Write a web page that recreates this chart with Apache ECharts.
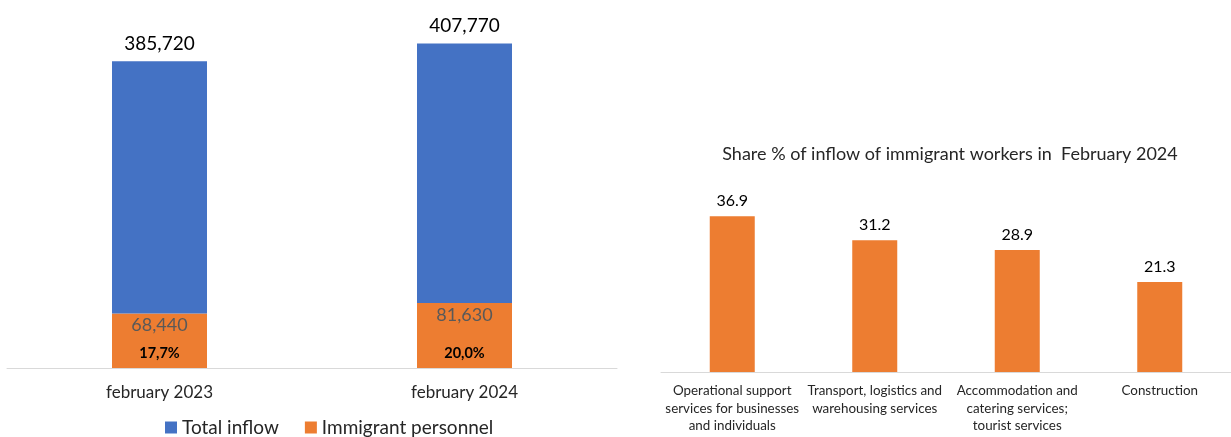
<!DOCTYPE html>
<html>
<head>
<meta charset="utf-8">
<script src="https://cdn.jsdelivr.net/npm/echarts@6/dist/echarts.min.js"></script>
<style>
  html, body { margin: 0; padding: 0; background: #fff; }
  #chart { width: 1231px; height: 437px; }
</style>
</head>
<body>
<div id="chart"></div>
<script>
// left: inflow by month
var months = ['february 2023', 'february 2024'];
var totalInflow = [385720, 407770];
var immigrantPersonnel = [68440, 81630];

// right: share % by sector, february 2024
var sectors = [
    'Operational support\nservices for businesses\nand individuals',
    'Transport, logistics and\nwarehousing services',
    'Accommodation and\ncatering services;\ntourist services',
    'Construction'
];
var sectorShare = [36.9, 31.2, 28.9, 21.3];

var BLUE = '#4472C4', ORANGE = '#ED7D31';
var FONT = 'Lato, "Open Sans", sans-serif';

function fmtThousands(v) {
    return v.toLocaleString('en-US');
}
// remaining part of the total above the immigrant part
var restInflow = totalInflow.map(function (t, i) { return t - immigrantPersonnel[i]; });

var chart = echarts.init(document.getElementById('chart'));
chart.setOption({
    textStyle: { fontFamily: FONT },
    animation: false,
    title: {
        text: 'Share % of inflow of immigrant workers in  February 2024',
        left: 945, top: 140, textAlign: 'center',
        textStyle: { fontSize: 18, fontWeight: 'normal', color: '#262626', fontFamily: FONT }
    },
    legend: {
        data: ['Total inflow', 'Immigrant personnel'],
        left: 160, top: 413,
        itemWidth: 12, itemHeight: 12, itemGap: 26,
        icon: 'rect',
        textStyle: { fontSize: 19, color: '#262626', fontFamily: FONT }
    },
    grid: [
        { left: 7, top: 10, width: 610, height: 358 },
        { left: 661, top: 161, width: 572, height: 211 }
    ],
    xAxis: [
        {
            type: 'category', gridIndex: 0, data: months,
            axisLine: { lineStyle: { color: '#D9D9D9' } },
            axisTick: { show: false },
            axisLabel: { fontSize: 17, color: '#262626', margin: 16, fontFamily: FONT }
        },
        {
            type: 'category', gridIndex: 1, data: sectors,
            axisLine: { lineStyle: { color: '#D9D9D9' } },
            axisTick: { show: false },
            axisLabel: { fontSize: 13.4, color: '#262626', margin: 10, lineHeight: 17.5, interval: 0, fontFamily: FONT }
        }
    ],
    yAxis: [
        { type: 'value', gridIndex: 0, min: 0, max: 450000, show: false },
        { type: 'value', gridIndex: 1, min: 0, max: 50, show: false }
    ],
    series: [
        {
            name: 'Immigrant personnel', type: 'bar', stack: 'inflow',
            xAxisIndex: 0, yAxisIndex: 0, barWidth: 95, barGap: '-100%',
            itemStyle: { color: ORANGE },
            data: immigrantPersonnel,
            label: {
                show: true, position: 'insideTop', distance: 3,
                fontSize: 18, color: '#595959', fontFamily: FONT,
                formatter: function (p) { return fmtThousands(p.value); }
            }
        },
        {
            name: 'Total inflow', type: 'bar', stack: 'inflow',
            xAxisIndex: 0, yAxisIndex: 0, barWidth: 95, barGap: '-100%',
            itemStyle: { color: BLUE },
            data: restInflow,
            label: {
                show: true, position: 'top', distance: 8,
                fontSize: 19, color: '#000', fontFamily: FONT,
                formatter: function (p) { return fmtThousands(totalInflow[p.dataIndex]); }
            }
        },
        {
            // transparent overlay carrying the share label at the bottom of the orange part
            name: 'share', type: 'bar',
            xAxisIndex: 0, yAxisIndex: 0, barWidth: 95, barGap: '-100%',
            itemStyle: { color: 'rgba(0,0,0,0)' },
            data: immigrantPersonnel,
            z: 5,
            label: {
                show: true, position: 'insideBottom', distance: 7,
                fontSize: 14.5, fontWeight: 'bold', color: '#000', fontFamily: FONT,
                formatter: function (p) {
                    var pct = immigrantPersonnel[p.dataIndex] / totalInflow[p.dataIndex] * 100;
                    return pct.toFixed(1).replace('.', ',') + '%';
                }
            }
        },
        {
            name: 'Share %', type: 'bar',
            xAxisIndex: 1, yAxisIndex: 1, barWidth: 45,
            itemStyle: { color: ORANGE },
            data: sectorShare,
            label: {
                show: true, position: 'top', distance: 7,
                fontSize: 16, color: '#000', fontFamily: FONT,
                formatter: function (p) { return p.value.toFixed(1); }
            }
        }
    ]
});
</script>
</body>
</html>
